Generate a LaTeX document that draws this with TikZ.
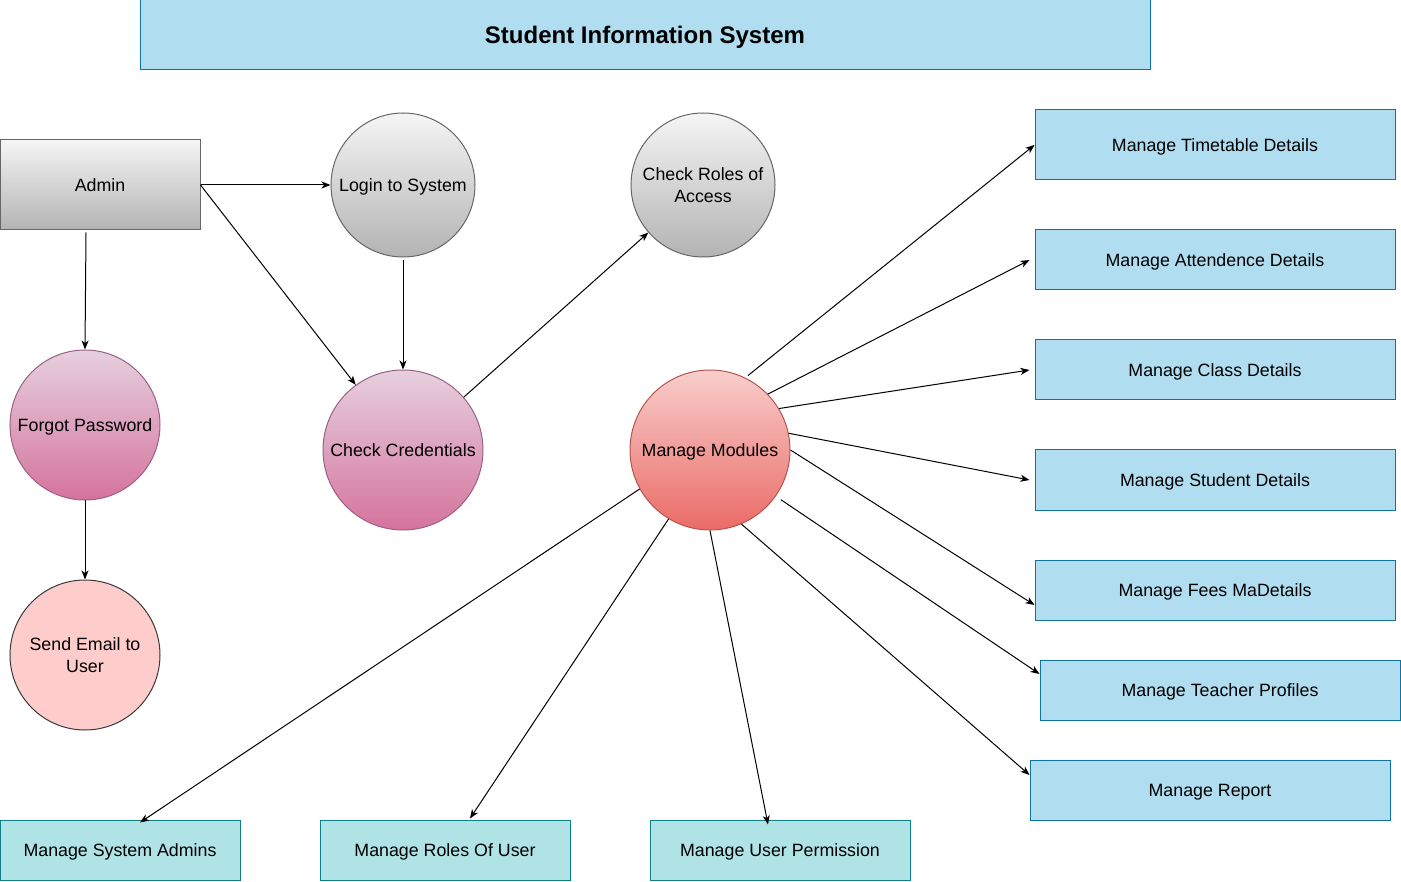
\documentclass[tikz,border=0pt]{standalone}
\usepackage{fontspec}
\setmainfont{Liberation Sans}
\usetikzlibrary{arrows.meta}
\definecolor{bfill}{HTML}{B1DDF0}
\definecolor{bstroke}{HTML}{10739E}
\definecolor{tfill}{HTML}{B0E3E6}
\definecolor{tstroke}{HTML}{0E8088}
\definecolor{gtop}{HTML}{F5F5F5}
\definecolor{gbot}{HTML}{B3B3B3}
\definecolor{gstroke}{HTML}{666666}
\definecolor{ptop}{HTML}{E6D0DE}
\definecolor{pbot}{HTML}{D5739D}
\definecolor{pstroke}{HTML}{996185}
\definecolor{rtop}{HTML}{F8CECC}
\definecolor{rbot}{HTML}{EA6B66}
\definecolor{rstroke}{HTML}{B85450}
\definecolor{sfill}{HTML}{FFCCCC}
\definecolor{sstroke}{HTML}{36393D}
\begin{document}
\begin{tikzpicture}[x=1pt,y=-1pt,
  font=\fontsize{17.8}{21.6}\selectfont,
  every node/.append style={text depth=0pt},
  arr/.style={draw=black, line width=1pt, -{Stealth[length=9pt,width=7pt,inset=2.5pt]}},
  bluebox/.style={rectangle, draw=bstroke, fill=bfill, line width=1pt, minimum width=360pt, minimum height=60pt, inner sep=0pt},
  tealbox/.style={rectangle, draw=tstroke, fill=tfill, line width=1pt, minimum height=60pt, inner sep=0pt},
  graycirc/.style={circle, draw=gstroke, top color=gtop, bottom color=gbot, line width=1pt, minimum size=144pt, inner sep=0pt, align=center},
  pinkcirc/.style={circle, draw=pstroke, top color=ptop, bottom color=pbot, line width=1pt, inner sep=0pt, align=center},
]
\useasboundingbox (0,0) rectangle (1401,882);

\node[rectangle, draw=bstroke, fill=bfill, line width=1pt, minimum width=1010pt, minimum height=70pt, inner sep=0pt, font=\fontsize{24}{28}\selectfont\bfseries] (title) at (645,35) {Student Information System};

\node[rectangle, draw=gstroke, top color=gtop, bottom color=gbot, line width=1pt, minimum width=200pt, minimum height=90pt, inner sep=0pt] (admin) at (100,185) {Admin};

\node[graycirc] (login) at (403,185) {Login to System};
\node[graycirc] (cr) at (703,185) {Check Roles of\\Access};

\node[pinkcirc, minimum size=150pt] (fp) at (85,425) {Forgot Password};
\node[pinkcirc, minimum size=160pt] (cc) at (403,450) {Check Credentials};
\node[circle, draw=rstroke, top color=rtop, bottom color=rbot, line width=1pt, minimum size=160pt, inner sep=0pt, align=center] (mm) at (710,450) {Manage Modules};
\node[circle, draw=sstroke, fill=sfill, line width=1pt, minimum size=150pt, inner sep=0pt, align=center] (se) at (85,655) {Send Email to\\User};

\node[bluebox, minimum height=70pt] (tt) at (1215,145) {Manage Timetable Details};
\node[bluebox] (att) at (1215,260) {Manage Attendence Details};
\node[bluebox] (cls) at (1215,370) {Manage Class Details};
\node[bluebox] (stu) at (1215,480) {Manage Student Details};
\node[bluebox] (fee) at (1215,590) {Manage Fees MaDetails};
\node[bluebox] (tea) at (1220,690) {Manage Teacher Profiles};
\node[bluebox] (rep) at (1210,790) {Manage Report};

\node[tealbox, minimum width=240pt] (sa) at (120,850) {Manage System Admins};
\node[tealbox, minimum width=250pt] (ru) at (445,850) {Manage Roles Of User};
\node[tealbox, minimum width=260pt] (up) at (780,850) {Manage User Permission};

\draw[arr] (admin.east) -- (login.west);
\draw[arr] (admin.east) -- (cc.126.9);
\draw[arr] ([xshift=-14pt,yshift=-2pt]admin.south) -- (fp.north);
\draw[arr] ([yshift=-3pt]login.south) -- (cc.north);
\draw[arr] (cc.41.5) -- (cr.221.7);
\draw[arr] (fp.south) -- (se.north);

\draw[arr] ([shift={(63:3pt)}]mm.63) -- (tt.west);
\draw[arr] (mm.44.5) -- ([xshift=-5pt]att.west);
\draw[arr] (mm.31.6) -- ([xshift=-5pt]cls.west);
\draw[arr] (mm.12.1) -- ([xshift=-5pt]stu.west);
\draw[arr] (mm.-0.7) -- ([yshift=-15pt]fee.west);
\draw[arr] ([shift={(-35.5:6pt)}]mm.-35.5) -- ([yshift=16pt]tea.west);
\draw[arr] (mm.-67.7) -- ([yshift=15pt]rep.west);
\draw[arr] (mm.209.8) -- ([xshift=20pt,yshift=-3pt]sa.north);
\draw[arr] (mm.239.9) -- ([xshift=25pt,yshift=1pt]ru.north);
\draw[arr] (mm.270) -- ([xshift=-12pt,yshift=-5pt]up.north);
\end{tikzpicture}
\end{document}
